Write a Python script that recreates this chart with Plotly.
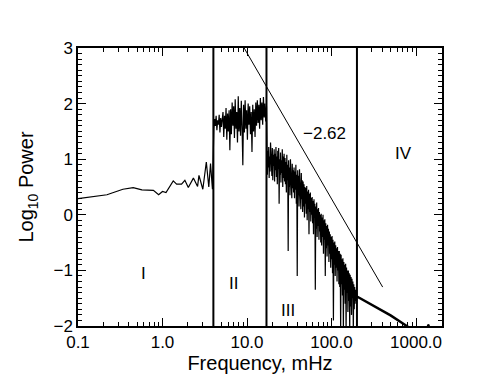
import numpy as np
import plotly.graph_objects as go

# region I: low frequencies, individual points
f_low = [0.1, 0.22, 0.34, 0.45, 0.57, 0.78, 0.90, 1.0, 1.1, 1.34, 1.47, 1.68,
         1.84, 2.02, 2.32, 2.6, 2.7, 3.0, 3.3, 3.53, 3.7, 3.9]
p_low = [0.29, 0.36, 0.46, 0.49, 0.45, 0.44, 0.36, 0.42, 0.40, 0.61, 0.55, 0.55,
         0.62, 0.49, 0.66, 0.51, 0.71, 0.46, 0.95, 0.50, 0.92, 0.46]

# region II: 4 - 17 mHz, spectrum samples (log-spaced bins)
band2_range = [4.05, 17.0]
p_band2 = [
    1.55, 1.72, 1.60, 1.78, 1.52, 1.70, 1.62, 1.80, 1.48, 1.74, 1.58, 1.68,
    1.85, 1.40, 1.78, 1.55, 1.92, 1.35, 1.82, 1.50, 1.88,
    1.16, 1.90, 1.45, 2.02, 1.60, 1.95, 1.38, 2.08, 1.55, 1.85, 1.30, 2.13, 1.50,
    1.92, 1.42, 2.05, 1.58,
    0.89, 1.98, 1.48, 2.06, 1.55, 1.88, 1.35, 2.00, 1.62,
    1.95, 1.45, 1.85, 1.13, 1.98, 1.50, 1.90, 1.40, 2.02, 1.60,
    2.06, 1.65, 1.98, 1.55, 2.10, 1.70, 2.02, 1.62, 2.12, 1.75, 2.00, 1.68, 1.95,
]

# region III: 17 - 200 mHz, the steep power-law part
band3_range = [17.2, 200.0]
p_band3 = [
    1.28, 0.72, 1.15, 0.85, 1.22, 0.66, 1.05, 0.78, 1.30, 0.90, 1.12, 0.70, 1.20, 0.62, 1.08, 0.88, 1.18, 0.60, 1.10, 0.80,
    1.22, 0.68, 1.05, 0.55, 1.15, 0.82, 1.20, 0.20, 1.00, 0.72, 1.12, 0.58, 0.98, 0.75, 1.18, 0.50, 1.05, 0.66, 1.10, 0.60,
    1.02, 0.55, 0.95, 0.40, 1.08, 0.62, 0.90, -0.65, 0.98, 0.50, 0.85, 0.35, 1.00, 0.58, 0.82, 0.30, 0.92, 0.48, 0.80, 0.40,
    0.85, 0.30, 0.78, 0.45, 0.90, 0.20, 0.72, -1.10, 0.80, 0.35, 0.70, 0.15, 0.82, 0.40, 0.65, 0.10, 0.75, 0.28, 0.62, 0.05,
    0.60, 0.15, 0.55, -0.05, 0.50, 0.20, 0.48, 0.02, 0.52, -0.10, 0.42, 0.10, 0.45, -0.35, 0.38, 0.05, 0.40, -0.12, 0.30, 0.00,
    0.32, -0.15, 0.25, -0.35, 0.28, 0.00, 0.20, -1.35, 0.15, -0.25, 0.22, -0.40, 0.10, -0.20, 0.12, -0.45, 0.05, -0.30, 0.00, -0.50,
    0.02, -0.55, -0.05, -0.40, 0.00, -0.70, -0.10, -0.45, -0.08, -1.10, -0.15, -0.60, -0.20, -0.75, -0.18, -0.55, -0.25, -0.85, -0.30, -0.70,
    -0.35, -0.95, -0.40, -0.80, -0.38, -1.05, -0.45, -1.90, -0.50, -0.90, -0.48, -1.10, -0.55, -0.95, -0.60, -1.20, -0.58, -1.00, -0.65, -1.25,
    -0.65, -1.30, -0.70, -2.10, -0.72, -1.25, -0.80, -1.45, -0.78, -2.10, -0.85, -1.35, -0.90, -1.60, -0.88, -2.10, -0.95, -1.40, -1.00, -1.75,
    -1.00, -1.55, -1.05, -2.10, -1.08, -1.65, -1.12, -1.80, -1.15, -1.50, -1.20, -2.10, -1.25, -1.70, -1.30, -1.60, -1.35, -1.55, -1.40, -1.47,
]

# region IV: smooth tail above 200 mHz
f_high = [200, 260, 375, 500, 708, 850]
p_high = [-1.47, -1.57, -1.70, -1.81, -1.96, -2.04]
f_dot = [1400]
p_dot = [-1.99]

boundaries = [4.0, 17.0, 200.0]
fit_f = [9.25, 403.0]
fit_p = [3.0, -1.3]
slope_text = "\u22122.62"
slope_pos = [81.5, 1.47]

region_names = ["I", "II", "III", "IV"]
region_f = [0.593, 6.9, 30.8, 713]
region_p = [-1.05, -1.23, -1.72, 1.10]

x_tickvals = [0.1, 1, 10, 100, 1000]
x_ticktext = ["0.1", "1.0", "10.0", "100.0", "1000.0"]

f2 = np.geomspace(band2_range[0], band2_range[1], len(p_band2))
f3 = np.geomspace(band3_range[0], band3_range[1], len(p_band3))
freq = np.concatenate([f_low, f2, f3])
power = np.concatenate([p_low, p_band2, p_band3])

fig = go.Figure()
fig.add_trace(go.Scatter(x=freq, y=power, mode="lines",
                         line=dict(color="black", width=1.2)))
fig.add_trace(go.Scatter(x=f_high, y=p_high, mode="lines",
                         line=dict(color="black", width=2.5)))
fig.add_trace(go.Scatter(x=f_dot, y=p_dot, mode="markers",
                         marker=dict(color="black", size=3)))
fig.add_trace(go.Scatter(x=fit_f, y=fit_p, mode="lines",
                         line=dict(color="black", width=1)))
for b in boundaries:
    fig.add_trace(go.Scatter(x=[b, b], y=[-2, 3], mode="lines",
                             line=dict(color="black", width=2)))

font = dict(family="Liberation Sans, Arial, sans-serif", size=17, color="black")
fig.add_annotation(x=np.log10(slope_pos[0]), y=slope_pos[1], text=slope_text,
                   showarrow=False, font=font)
for name, fx, py in zip(region_names, region_f, region_p):
    fig.add_annotation(x=np.log10(fx), y=py, text=name, showarrow=False, font=font)

# the html page has an 8px body margin, so margins are shifted by that much
fig.update_layout(
    width=480, height=384,
    margin=dict(l=70, r=46, t=40, b=66),
    paper_bgcolor="white", plot_bgcolor="white",
    showlegend=False,
    font=font,
)
fig.update_xaxes(
    type="log", range=[-1, np.log10(2030)], automargin=False,
    tickvals=x_tickvals, ticktext=x_ticktext,
    ticks="inside", ticklen=8, tickwidth=1, tickcolor="black",
    minor=dict(ticks="inside", ticklen=4, dtick="D1", tickcolor="black", showgrid=False),
    showline=True, linecolor="black", linewidth=1.5, mirror="allticks",
    showgrid=False, zeroline=False,
    title=dict(text="Frequency, mHz", standoff=4),
)
fig.update_yaxes(
    range=[-2, 3], dtick=1, automargin=False,
    ticks="inside", ticklen=8, tickwidth=1, tickcolor="black",
    minor=dict(ticks="inside", ticklen=4, dtick=0.1, tickcolor="black", showgrid=False),
    showline=True, linecolor="black", linewidth=1.5, mirror="allticks",
    showgrid=False, zeroline=False,
    title=dict(text="Log<sub>10</sub> Power", standoff=14),
)

fig.write_html("out.html")
